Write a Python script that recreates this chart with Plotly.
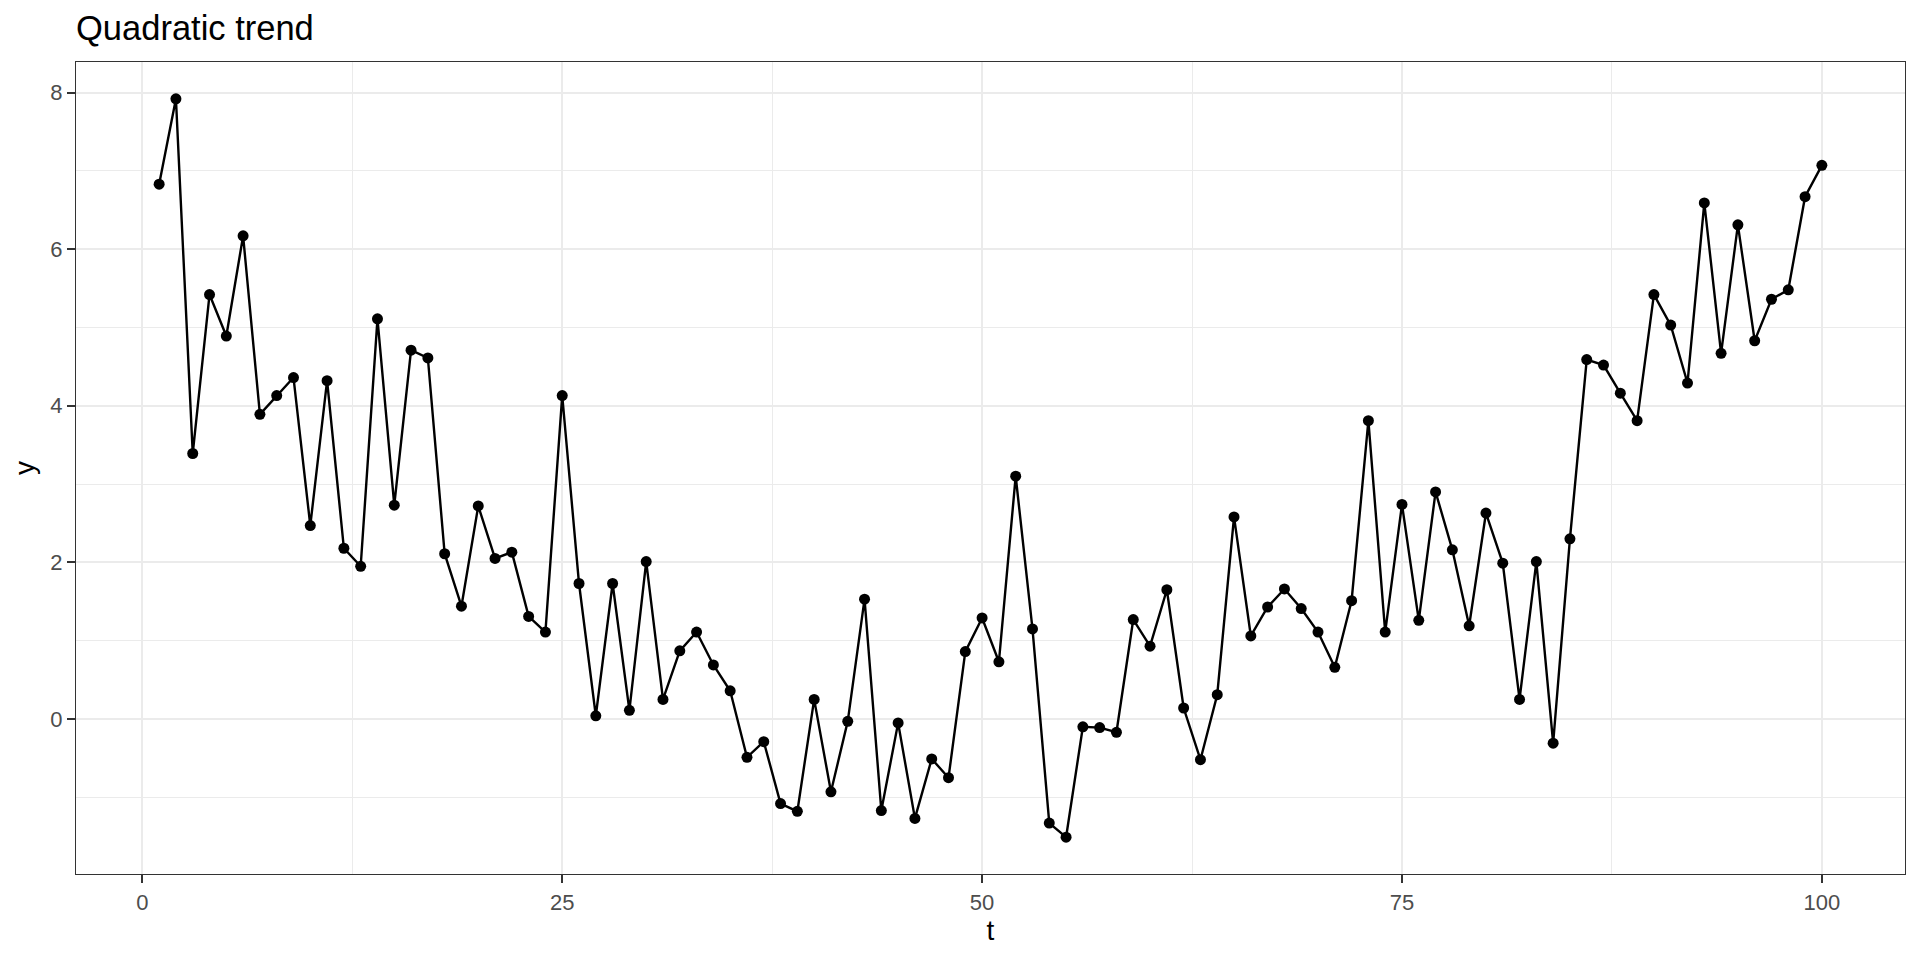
import plotly.graph_objects as go

t = list(range(1, 101))
y = [
    6.83, 7.92, 3.39, 5.42, 4.89, 6.17, 3.89, 4.13, 4.36, 2.47,
    4.32, 2.18, 1.95, 5.11, 2.73, 4.71, 4.61, 2.11, 1.44, 2.72,
    2.05, 2.13, 1.31, 1.11, 4.13, 1.73, 0.04, 1.73, 0.11, 2.01,
    0.25, 0.87, 1.11, 0.69, 0.36, -0.49, -0.29, -1.08, -1.18, 0.25,
    -0.93, -0.03, 1.53, -1.17, -0.05, -1.27, -0.51, -0.75, 0.86, 1.29,
    0.73, 3.10, 1.15, -1.33, -1.51, -0.10, -0.11, -0.17, 1.27, 0.93,
    1.65, 0.14, -0.52, 0.31, 2.58, 1.06, 1.43, 1.66, 1.41, 1.11,
    0.66, 1.51, 3.81, 1.11, 2.74, 1.26, 2.90, 2.16, 1.19, 2.63,
    1.99, 0.25, 2.01, -0.31, 2.30, 4.59, 4.52, 4.16, 3.81, 5.42,
    5.03, 4.29, 6.59, 4.67, 6.31, 4.83, 5.36, 5.48, 6.67, 7.07,
]

x_ticks = [0, 25, 50, 75, 100]
x_minor = [12.5, 37.5, 62.5, 87.5]
y_ticks = [0, 2, 4, 6, 8]
y_minor = [-1, 1, 3, 5, 7]

FONT = "Liberation Sans, Arial, sans-serif"

fig = go.Figure(go.Scatter(
    x=t, y=y, mode="lines+markers",
    line=dict(color="black", width=2.4),
    marker=dict(color="black", size=11),
    showlegend=False,
))

axis_common = dict(
    showgrid=True, gridcolor="#EBEBEB", gridwidth=2.4,
    zeroline=False, automargin=False,
    showline=True, linecolor="#333333", linewidth=1.4, mirror=True,
    ticks="outside", ticklen=8, tickwidth=2, tickcolor="#333333",
    tickfont=dict(family=FONT, size=22, color="#4D4D4D"),
)

fig.update_xaxes(
    **axis_common,
    range=[-3.95, 104.95], tickvals=x_ticks,
    minor=dict(tickvals=x_minor, showgrid=True, gridcolor="#EBEBEB",
               gridwidth=1.2, ticks=""),
    title=dict(text="t", font=dict(family=FONT, size=28, color="black"),
               standoff=6),
)
fig.update_yaxes(
    **axis_common,
    range=[-1.98, 8.39], tickvals=y_ticks,
    minor=dict(tickvals=y_minor, showgrid=True, gridcolor="#EBEBEB",
               gridwidth=1.2, ticks=""),
    title=dict(text="y", font=dict(family=FONT, size=28, color="black"),
               standoff=7),
)

fig.update_layout(
    width=1920, height=960,
    margin=dict(l=76, r=15, t=62, b=86),
    plot_bgcolor="white", paper_bgcolor="white",
    title=dict(text="Quadratic trend", x=76 / 1920, xanchor="left",
               xref="container", y=1 - 28 / 960, yref="container",
               yanchor="middle",
               font=dict(family=FONT, size=34.5, color="black")),
)

fig.write_html("out.html", config={"displayModeBar": False},
               post_script="document.body.style.margin='0';")
